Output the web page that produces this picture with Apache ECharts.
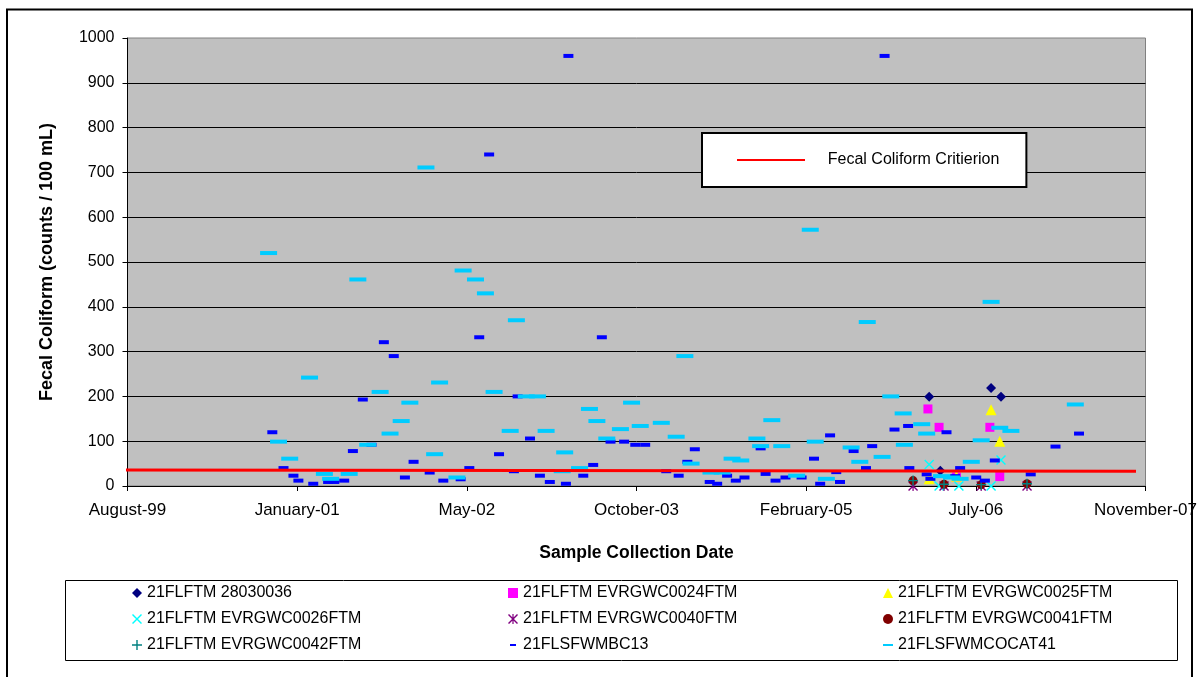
<!DOCTYPE html>
<html>
<head>
<meta charset="utf-8">
<script src="https://cdn.jsdelivr.net/npm/echarts@6/dist/echarts.min.js"></script>
<style>
  html, body { margin: 0; padding: 0; background: #fff; }
  #chart { width: 1200px; height: 677px; }
</style>
</head>
<body>
<div id="chart"></div>
<script>
// sample dates are decimal years, values are counts / 100 mL
const stn28030036 = [[2006.13, 199], [2006.22, 34], [2006.63, 219], [2006.71, 199]];
const evrgwc0024 = [[2006.12, 172], [2006.21, 131], [2006.35, 20], [2006.62, 131], [2006.70, 21]];
const evrgwc0025 = [[2006.13, 16], [2006.35, 22], [2006.63, 170], [2006.70, 100]];
const evrgwc0026 = [[2006.13, 48], [2006.21, 0], [2006.37, 0], [2006.63, 0], [2006.71, 58]];
const evrgwc0040 = [[2006.00, 0], [2006.25, 0], [2006.55, 0], [2006.92, 0]];
const evrgwc0041 = [[2006.00, 12], [2006.25, 4], [2006.55, 3], [2006.92, 5]];
const evrgwc0042 = [[2006.00, 12], [2006.25, 4], [2006.55, 3], [2006.92, 5]];

const sfwmbc13 = [
  [2000.83, 120], [2000.92, 40], [2001.00, 23], [2001.04, 12], [2001.16, 5], [2001.28, 9],
  [2001.33, 9], [2001.41, 12], [2001.48, 78], [2001.56, 193], [2001.63, 92], [2001.73, 321],
  [2001.81, 290], [2001.90, 19], [2001.97, 54], [2002.10, 30], [2002.21, 12], [2002.35, 15],
  [2002.42, 40], [2002.50, 332], [2002.58, 740], [2002.66, 71], [2002.78, 33], [2002.81, 200],
  [2002.91, 106], [2002.99, 23], [2003.07, 9], [2003.20, 5], [2003.22, 960], [2003.34, 23],
  [2003.42, 47], [2003.49, 332], [2003.56, 99], [2003.67, 99], [2003.76, 92], [2003.84, 92],
  [2004.01, 33], [2004.11, 23], [2004.18, 54], [2004.24, 82], [2004.36, 9], [2004.42, 5],
  [2004.50, 23], [2004.57, 12], [2004.64, 19], [2004.77, 84], [2004.81, 27], [2004.89, 12],
  [2004.97, 19], [2005.10, 19], [2005.20, 61], [2005.25, 5], [2005.33, 113], [2005.38, 31],
  [2005.41, 9], [2005.52, 78], [2005.62, 40], [2005.67, 89], [2005.77, 960], [2005.85, 126],
  [2005.96, 134], [2005.97, 40], [2006.11, 26], [2006.14, 16], [2006.27, 120], [2006.34, 22],
  [2006.38, 40], [2006.51, 19], [2006.58, 12], [2006.66, 57], [2006.95, 26], [2007.15, 88],
  [2007.34, 117]
];

const sfwmcocat41 = [
  [2000.80, 520], [2000.88, 99], [2000.97, 61], [2001.13, 242], [2001.25, 27], [2001.30, 16],
  [2001.45, 27], [2001.52, 461], [2001.60, 92], [2001.70, 210], [2001.78, 117], [2001.87, 145],
  [2001.94, 186], [2002.07, 711], [2002.14, 71], [2002.18, 231], [2002.32, 19], [2002.37, 481],
  [2002.47, 461], [2002.55, 430], [2002.62, 210], [2002.75, 123], [2002.80, 370], [2002.88, 200],
  [2002.97, 200], [2003.04, 123], [2003.17, 33], [2003.19, 75], [2003.31, 40], [2003.39, 172],
  [2003.45, 145], [2003.53, 106], [2003.64, 127], [2003.73, 186], [2003.80, 134], [2003.97, 141],
  [2004.09, 110], [2004.16, 290], [2004.21, 50], [2004.37, 30], [2004.46, 30], [2004.54, 61],
  [2004.61, 57], [2004.74, 106], [2004.77, 89], [2004.86, 147], [2004.94, 89], [2005.06, 23],
  [2005.17, 572], [2005.21, 99], [2005.30, 16], [2005.50, 86], [2005.57, 54], [2005.63, 366],
  [2005.75, 65], [2005.82, 200], [2005.92, 162], [2005.93, 92], [2006.07, 138], [2006.11, 117],
  [2006.23, 22], [2006.31, 19], [2006.38, 16], [2006.47, 54], [2006.55, 102], [2006.63, 411],
  [2006.70, 130], [2006.79, 123], [2007.31, 182]
];

const criterion = [[1999.61, 36], [2007.80, 33]];

const MONTHS = ['January', 'February', 'March', 'April', 'May', 'June', 'July',
  'August', 'September', 'October', 'November', 'December'];

// x axis runs in days from 31 Aug 1999, ticks every 500 days like the excel axis
const BASE = Date.UTC(1999, 7, 31);
const DAY = 86400000;

function toDays(dy) {
  const y = Math.floor(dy);
  const y0 = Date.UTC(y, 0, 1);
  const y1 = Date.UTC(y + 1, 0, 1);
  return (y0 + (dy - y) * (y1 - y0) - BASE) / DAY;
}
function pts(list) {
  return list.map(p => [toDays(p[0]), p[1]]);
}

const X_PATH = 'path://M0,1L1,0L10,9L9,10ZM9,0L10,1L1,10L0,9Z';
const STAR_PATH = 'path://M0,1L1,0L10,9L9,10ZM9,0L10,1L1,10L0,9ZM4.4,0H5.6V10H4.4Z';
const PLUS_PATH = 'path://M4.3,0H5.7V10H4.3ZM0,4.3H10V5.7H0Z';
const DASH_S = 'path://M0,0M10,10M2,4H8V6H2Z';
const DASH_L = 'path://M0,0M10,10M0,4H10V6H0Z';
const RED_LINE = 'path://M0,0M68,14M0,6H68V8H0Z';

const font = 'Liberation Sans, Arial, sans-serif';

function scatter(name, data, symbol, size, color) {
  return {
    name: name,
    type: 'scatter',
    data: pts(data),
    symbol: symbol,
    symbolSize: size,
    itemStyle: { color: color, opacity: 1 },
    emphasis: { disabled: true },
    animation: false
  };
}

const legendText = { fontFamily: font, fontSize: 16, color: '#000', lineHeight: 16 };

const chart = echarts.init(document.getElementById('chart'));
chart.setOption({
  backgroundColor: '#fff',
  animation: false,
  grid: {
    left: 127.5, right: 54, top: 38, bottom: 191,
    show: true, backgroundColor: '#C0C0C0', borderColor: '#808080', borderWidth: 1
  },
  xAxis: {
    type: 'value',
    min: 0, max: 3000, interval: 500,
    name: 'Sample Collection Date',
    nameLocation: 'middle',
    nameGap: 58,
    nameTextStyle: { fontFamily: font, fontSize: 17.5, fontWeight: 'bold', color: '#000' },
    axisLine: { lineStyle: { color: '#000', width: 1 } },
    axisTick: { length: 5, lineStyle: { color: '#000' } },
    axisLabel: {
      fontFamily: font, fontSize: 17, color: '#000', margin: 16,
      formatter: function (v) {
        const d = new Date(BASE + v * DAY);
        return MONTHS[d.getUTCMonth()] + '-' + String(d.getUTCFullYear()).slice(2);
      }
    },
    splitLine: { show: false }
  },
  yAxis: {
    type: 'value',
    min: 0, max: 1000, interval: 100,
    name: 'Fecal Coliform (counts / 100 mL)',
    nameLocation: 'middle',
    nameGap: 71,
    nameTextStyle: { fontFamily: font, fontSize: 18, fontWeight: 'bold', color: '#000' },
    axisLine: { show: true, lineStyle: { color: '#000', width: 1 } },
    axisTick: { show: true, length: 5, lineStyle: { color: '#000' } },
    axisLabel: {
      fontFamily: font, fontSize: 16, color: '#000', margin: 13,
      formatter: function (v) { return String(v); }
    },
    splitLine: { show: true, showMinLine: false, showMaxLine: false, lineStyle: { color: '#000', width: 1 } }
  },
  legend: [
    {
      data: [{ name: 'Fecal Coliform Critierion', icon: RED_LINE }],
      left: 702, top: 133,
      backgroundColor: '#fff', borderColor: '#000', borderWidth: 2, borderRadius: 0,
      padding: [19, 27, 19, 35],
      itemWidth: 68, itemHeight: 14,
      formatter: '    {name}',
      textStyle: legendText,
      selectedMode: false
    },
    {
      data: [
        { name: '21FLFTM 28030036', icon: 'diamond' },
        { name: '21FLFTM EVRGWC0026FTM', icon: X_PATH },
        { name: '21FLFTM EVRGWC0042FTM', icon: PLUS_PATH }
      ],
      orient: 'vertical', left: 132, top: 585, padding: 0,
      itemWidth: 10, itemHeight: 10, itemGap: 10,
      textStyle: legendText, selectedMode: false
    },
    {
      data: [
        { name: '21FLFTM EVRGWC0024FTM', icon: 'rect' },
        { name: '21FLFTM EVRGWC0040FTM', icon: STAR_PATH },
        { name: '21FLSFWMBC13', icon: DASH_S }
      ],
      orient: 'vertical', left: 508, top: 585, padding: 0,
      itemWidth: 10, itemHeight: 10, itemGap: 10,
      textStyle: legendText, selectedMode: false
    },
    {
      data: [
        { name: '21FLFTM EVRGWC0025FTM', icon: 'triangle' },
        { name: '21FLFTM EVRGWC0041FTM', icon: 'circle' },
        { name: '21FLSFWMCOCAT41', icon: DASH_L }
      ],
      orient: 'vertical', left: 883, top: 585, padding: 0,
      itemWidth: 10, itemHeight: 10, itemGap: 10,
      textStyle: legendText, selectedMode: false
    }
  ],
  graphic: [
    {
      type: 'rect', silent: true,
      shape: { x: 7, y: 9.5, width: 1185, height: 700 },
      style: { fill: 'none', stroke: '#000', lineWidth: 2 }
    },
    {
      type: 'rect', silent: true,
      shape: { x: 65.5, y: 580.5, width: 1112, height: 80 },
      style: { fill: 'none', stroke: '#000', lineWidth: 1 }
    }
  ],
  series: [
    scatter('21FLFTM 28030036', stn28030036, 'diamond', 10, '#000080'),
    scatter('21FLFTM EVRGWC0024FTM', evrgwc0024, 'rect', 9, '#FF00FF'),
    scatter('21FLFTM EVRGWC0025FTM', evrgwc0025, 'triangle', 11, '#FFFF00'),
    scatter('21FLFTM EVRGWC0026FTM', evrgwc0026, X_PATH, 10, '#00FFFF'),
    scatter('21FLFTM EVRGWC0040FTM', evrgwc0040, STAR_PATH, 10, '#800080'),
    scatter('21FLFTM EVRGWC0041FTM', evrgwc0041, 'circle', 9, '#800000'),
    scatter('21FLFTM EVRGWC0042FTM', evrgwc0042, PLUS_PATH, 10, '#008080'),
    scatter('21FLSFWMBC13', sfwmbc13, 'rect', [10, 4], '#0000FF'),
    scatter('21FLSFWMCOCAT41', sfwmcocat41, 'rect', [17, 4], '#00CCFF'),
    {
      name: 'Fecal Coliform Critierion',
      type: 'line',
      data: pts(criterion),
      symbol: 'none',
      clip: false,
      lineStyle: { color: '#FF0000', width: 3 },
      itemStyle: { color: '#FF0000' },
      emphasis: { disabled: true },
      animation: false
    }
  ]
});
</script>
</body>
</html>
